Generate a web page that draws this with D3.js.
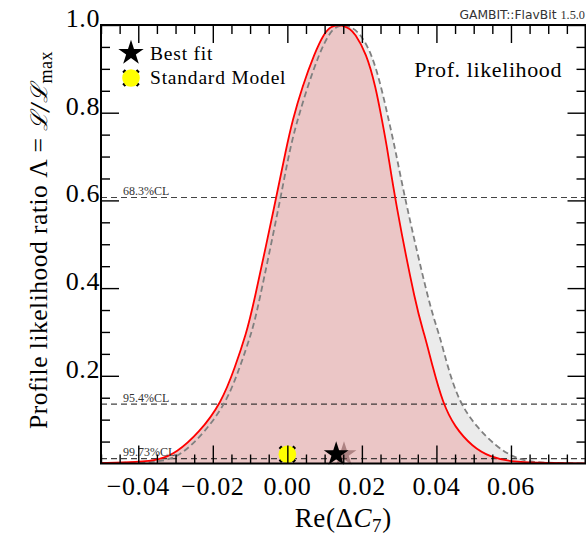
<!DOCTYPE html>
<html>
<head>
<meta charset="UTF-8"/>
<style>
  body { margin: 0; background: #fff; }
  text { font-family: "Liberation Serif", "DejaVu Serif", serif; }
</style>
</head>
<body>
<script src="https://cdn.jsdelivr.net/npm/d3@7"></script>
<script>
// profile likelihood curves
var redX = [-0.050, -0.040, -0.0344, -0.0298, -0.0237, -0.0177, -0.0140, -0.0110, -0.0094, -0.0030, -0.0004,
            0.0014, 0.0040, 0.0073, 0.0099, 0.0117, 0.0137, 0.0155, 0.0168, 0.0180, 0.0212, 0.0237, 0.0254,
            0.0269, 0.0288, 0.0347, 0.0367, 0.0390, 0.0417, 0.0449, 0.0497, 0.0543, 0.0605, 0.0700, 0.0800];
var redL = [0.001, 0.003, 0.008, 0.024, 0.070, 0.138, 0.220, 0.298, 0.350, 0.605, 0.715,
            0.783, 0.859, 0.936, 0.982, 0.997, 1.000, 0.997, 0.991, 0.982, 0.936, 0.859, 0.783,
            0.715, 0.605, 0.350, 0.298, 0.220, 0.138, 0.083, 0.038, 0.015, 0.003, 0.001, 0.000];

var greyX = [-0.050, -0.040, -0.0331, -0.0285, -0.0223, -0.0164, -0.0127, -0.0096, -0.0080, -0.0018, 0.0006,
             0.0027, 0.0054, 0.0086, 0.0113, 0.0132, 0.0152, 0.0172, 0.0194, 0.0226, 0.0252, 0.0272,
             0.0290, 0.0315, 0.0384, 0.0407, 0.0430, 0.0462, 0.0508, 0.0562, 0.0605, 0.0651, 0.0720, 0.0800];
var greyL = [0.001, 0.002, 0.005, 0.019, 0.070, 0.138, 0.220, 0.298, 0.350, 0.605, 0.715,
             0.783, 0.859, 0.936, 0.982, 0.997, 1.000, 0.995, 0.982, 0.936, 0.859, 0.783,
             0.715, 0.605, 0.350, 0.298, 0.220, 0.138, 0.083, 0.038, 0.015, 0.003, 0.001, 0.000];

var bestFit = {x: 0.0131, y: 0.021};
var bestFitGrey = {x: 0.0152, y: 0.021};
var smPoint = {x: 0.0, y: 0.021};

var clLevels = [0.6065, 0.1353, 0.0111];
var clLabels = ["68.3%CL", "95.4%CL", "99.73%CL"];

var xMajor = [-0.04, -0.02, 0.00, 0.02, 0.04, 0.06];
var xLabels = ["\u22120.04", "\u22120.02", "0.00", "0.02", "0.04", "0.06"];
var yMajor = [0.2, 0.4, 0.6, 0.8, 1.0];
var yLabels = ["0.2", "0.4", "0.6", "0.8", "1.0"];

var W = 586, H = 535;
var pL = 101, pR = 585.5, pT = 25, pB = 463.5;

var svg = d3.select("body").append("svg").attr("width", W).attr("height", H);

var x = d3.scaleLinear().domain([-0.05, 0.08]).range([pL, pR]);
var y = d3.scaleLinear().domain([0, 1]).range([pB, pT]);

var xMinor = d3.range(-0.05, 0.0801, 0.005).filter(function(v){ return Math.abs(Math.round(v*50) - v*50) > 1e-6; });
var yMinor = d3.range(0.05, 1.0, 0.05).filter(function(v){ return Math.abs(Math.round(v*5) - v*5) > 1e-6; });

svg.append("clipPath").attr("id", "plotclip")
  .append("rect").attr("x", pL).attr("y", pT).attr("width", pR-pL).attr("height", pB-pT);

var plot = svg.append("g").attr("clip-path", "url(#plotclip)");

var red = redX.map(function(d, i){ return [d, redL[i]]; });
var grey = greyX.map(function(d, i){ return [d, greyL[i]]; });

var area = d3.area().x(function(d){ return x(d[0]); }).y0(y(0)).y1(function(d){ return y(d[1]); })
  .curve(d3.curveBasis);
var line = d3.line().x(function(d){ return x(d[0]); }).y(function(d){ return y(d[1]); })
  .curve(d3.curveBasis);

plot.append("path").attr("d", area(grey)).attr("fill", "#ebebeb");
plot.append("path").attr("d", area(red)).attr("fill", "#ebc6c6");

// confidence level lines
plot.selectAll("line.cl").data(clLevels).enter().append("line")
  .attr("class", "cl")
  .attr("x1", pL).attr("x2", pR)
  .attr("y1", function(d){ return y(d); }).attr("y2", function(d){ return y(d); })
  .attr("stroke", "#222").attr("stroke-opacity", 0.85).attr("stroke-width", 1.1)
  .attr("stroke-dasharray", "6,4");

svg.selectAll("text.cl").data(clLevels).enter().append("text")
  .attr("class", "cl")
  .attr("x", 123).attr("y", function(d){ return y(d) - 2.5; })
  .attr("font-size", 12).attr("fill", "#333")
  .text(function(d, i){ return clLabels[i]; });

plot.append("path").attr("d", line(grey)).attr("fill", "none")
  .attr("stroke", "#808080").attr("stroke-width", 1.8).attr("stroke-dasharray", "6,3.5");
plot.append("path").attr("d", line(red)).attr("fill", "none")
  .attr("stroke", "#ff0000").attr("stroke-width", 1.8);

// markers
var starSize = 190;
svg.append("path").attr("d", d3.symbol().type(d3.symbolStar).size(starSize)())
  .attr("transform", "translate(" + x(bestFitGrey.x) + "," + y(bestFitGrey.y) + ")")
  .attr("fill", "#7a4a4a").attr("fill-opacity", 0.55);
svg.append("path").attr("d", d3.symbol().type(d3.symbolStar).size(starSize)())
  .attr("transform", "translate(" + x(bestFit.x) + "," + y(bestFit.y) + ")")
  .attr("fill", "#000");

var drawSM = function(g, cx, cy){
  g.append("path").attr("d", "M-7.5,-7.5L7.5,7.5M-7.5,7.5L7.5,-7.5")
    .attr("transform", "translate(" + cx + "," + cy + ")")
    .attr("stroke", "#000").attr("stroke-width", 3.4);
  g.append("circle").attr("cx", cx).attr("cy", cy).attr("r", 8.8).attr("fill", "#ffff00");
};
drawSM(svg, x(smPoint.x), y(smPoint.y));

// ticks on all four sides, pointing inward
var tickG = svg.append("g");
tickG.append("g").attr("transform", "translate(0," + pB + ")")
  .call(d3.axisBottom(x).tickValues(xMajor).tickSize(-18).tickFormat(""));
tickG.append("g").attr("transform", "translate(0," + pB + ")")
  .call(d3.axisBottom(x).tickValues(xMinor).tickSize(-9).tickFormat(""));
tickG.append("g").attr("transform", "translate(0," + pT + ")")
  .call(d3.axisTop(x).tickValues(xMajor).tickSize(-18).tickFormat(""));
tickG.append("g").attr("transform", "translate(0," + pT + ")")
  .call(d3.axisTop(x).tickValues(xMinor).tickSize(-9).tickFormat(""));
tickG.append("g").attr("transform", "translate(" + pL + ",0)")
  .call(d3.axisLeft(y).tickValues(yMajor).tickSize(-18).tickFormat(""));
tickG.append("g").attr("transform", "translate(" + pL + ",0)")
  .call(d3.axisLeft(y).tickValues(yMinor).tickSize(-9).tickFormat(""));
tickG.append("g").attr("transform", "translate(" + pR + ",0)")
  .call(d3.axisRight(y).tickValues(yMajor).tickSize(-18).tickFormat(""));
tickG.append("g").attr("transform", "translate(" + pR + ",0)")
  .call(d3.axisRight(y).tickValues(yMinor).tickSize(-9).tickFormat(""));
tickG.selectAll(".domain").remove();
tickG.selectAll(".tick line").attr("stroke", "#000").attr("stroke-width", 1.4);

// frame
svg.append("rect").attr("x", pL).attr("y", pT).attr("width", pR-pL).attr("height", pB-pT)
  .attr("fill", "none").attr("stroke", "#000").attr("stroke-width", 2);

// tick labels
svg.selectAll("text.xl").data(xMajor).enter().append("text")
  .attr("class", "xl").attr("x", function(d){ return x(d); }).attr("y", 495)
  .attr("text-anchor", "middle").attr("font-size", 26).attr("letter-spacing", 0.6)
  .text(function(d, i){ return xLabels[i]; });
svg.selectAll("text.yl").data(yMajor).enter().append("text")
  .attr("class", "yl").attr("x", 100).attr("y", function(d){ return y(d) + 2; })
  .attr("text-anchor", "end").attr("font-size", 26).attr("letter-spacing", 0.6)
  .text(function(d, i){ return yLabels[i]; });

// axis titles
var xt = svg.append("text").attr("x", (pL + pR)/2).attr("y", 527)
  .attr("text-anchor", "middle").attr("font-size", 27).attr("letter-spacing", 0.6);
xt.append("tspan").text("Re(\u0394");
xt.append("tspan").attr("font-style", "italic").text("C");
xt.append("tspan").attr("font-size", 19).attr("dy", 5).text("7");
xt.append("tspan").attr("dy", -5).text(")");

var yt = svg.append("text").attr("transform", "translate(47," + 240 + ") rotate(-90)")
  .attr("text-anchor", "middle").attr("font-size", 25.5).attr("letter-spacing", 0.5);
yt.append("tspan").text("Profile likelihood ratio \u039b = ");
yt.append("tspan").attr("font-family", "DejaVu Serif").attr("font-style", "italic").attr("font-size", 23).text("\u2112/\u2112");
yt.append("tspan").attr("font-size", 18).attr("dy", 5).text("max");

// legend
svg.append("path").attr("d", d3.symbol().type(d3.symbolStar).size(200)())
  .attr("transform", "translate(131,53)").attr("fill", "#000");
svg.append("text").attr("x", 150).attr("y", 60).attr("font-size", 19.5).attr("letter-spacing", 0.8).text("Best fit");
drawSM(svg, 131, 78);
svg.append("text").attr("x", 150).attr("y", 84).attr("font-size", 19.5).attr("letter-spacing", 0.8).text("Standard Model");

svg.append("text").attr("x", 562).attr("y", 77).attr("text-anchor", "end").attr("font-size", 22)
  .attr("letter-spacing", 0.6).text("Prof. likelihood");

var gb = svg.append("text").attr("x", 585).attr("y", 19).attr("text-anchor", "end").attr("font-size", 12.3)
  .attr("fill", "#333");
gb.append("tspan").attr("font-family", "DejaVu Sans").text("GAMBIT::FlavBit ");
gb.append("tspan").text("1.5.0");
</script>
</body>
</html>
